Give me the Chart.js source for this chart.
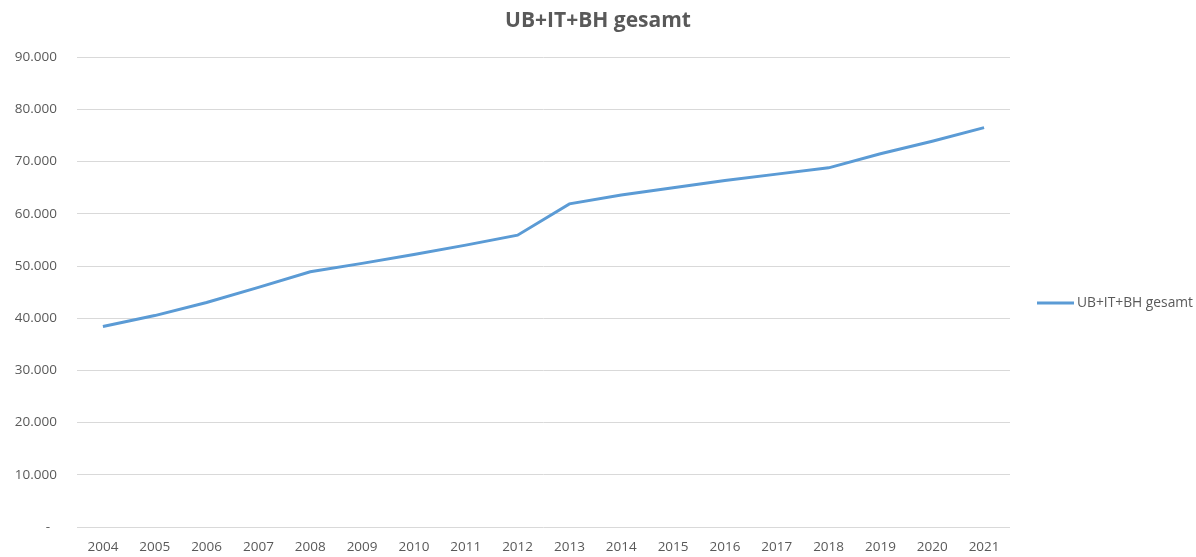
<!DOCTYPE html>
<html>
<head>
<meta charset="utf-8">
<script src="https://cdn.jsdelivr.net/npm/chart.js@4"></script>
<style>
  html, body { margin: 0; padding: 0; background: #ffffff; }
  #wrap { width: 1196px; height: 557px; position: relative; }
</style>
</head>
<body>
<div id="wrap"><canvas id="c" width="1196" height="557"></canvas></div>
<script>
const chartTitle = 'UB+IT+BH gesamt';
const seriesName = 'UB+IT+BH gesamt';
const years = ['2004','2005','2006','2007','2008','2009','2010','2011','2012','2013','2014','2015','2016','2017','2018','2019','2020','2021'];
const values = [38400, 40500, 43000, 45900, 48900, 50500, 52200, 54000, 55900, 61900, 63600, 65000, 66400, 67600, 68800, 71500, 73900, 76500];
const yTickLabels = ['-  ', '10.000', '20.000', '30.000', '40.000', '50.000', '60.000', '70.000', '80.000', '90.000'];

const lineColor = '#5b9bd5';
const textColor = '#595959';
const fontFamily = '"Open Sans", "Liberation Sans", sans-serif';

const legendPlugin = {
  id: 'sideLegend',
  afterDraw(chart) {
    const ctx = chart.ctx;
    ctx.save();
    const y = 303;
    ctx.strokeStyle = lineColor;
    ctx.lineWidth = 3;
    ctx.beginPath();
    ctx.moveTo(1037, y);
    ctx.lineTo(1074, y);
    ctx.stroke();
    ctx.fillStyle = textColor;
    ctx.font = '13.8px ' + fontFamily;
    ctx.textBaseline = 'middle';
    ctx.textAlign = 'left';
    ctx.fillText(seriesName, 1077, y);
    ctx.restore();
  }
};

new Chart(document.getElementById('c'), {
  type: 'line',
  data: {
    labels: years,
    datasets: [{
      label: seriesName,
      data: values,
      borderColor: lineColor,
      backgroundColor: lineColor,
      borderWidth: 3,
      pointRadius: 0,
      tension: 0,
      fill: false
    }]
  },
  options: {
    responsive: false,
    animation: false,
    layout: { padding: { left: 0, right: 0, top: 0, bottom: 0 } },
    plugins: {
      legend: { display: false },
      tooltip: { enabled: false },
      title: {
        display: true,
        text: chartTitle,
        color: textColor,
        font: { family: fontFamily, size: 21, weight: 'bold' },
        padding: { top: 8, bottom: 24 }
      }
    },
    scales: {
      x: {
        offset: true,
        afterFit(scale) { scale.height = 30; },
        grid: { display: false, drawTicks: false },
        border: { display: false },
        ticks: {
          color: textColor,
          font: { family: fontFamily, size: 13.5 },
          padding: 12,
          maxRotation: 0,
          autoSkip: false
        }
      },
      y: {
        min: 0,
        max: 90000,
        afterFit(scale) { scale.width = 77; },
        grid: { color: '#d9d9d9', lineWidth: 1, drawTicks: false },
        border: { display: false },
        ticks: {
          stepSize: 10000,
          color: textColor,
          font: { family: fontFamily, size: 13.5 },
          padding: 20,
          callback(value, index) { return yTickLabels[index]; }
        }
      },
      legendSpace: {
        type: 'linear',
        position: 'right',
        display: true,
        afterFit(scale) { scale.width = 186; },
        grid: { display: false, drawTicks: false },
        border: { display: false },
        ticks: { display: false }
      }
    }
  },
  plugins: [legendPlugin]
});
</script>
</body>
</html>
